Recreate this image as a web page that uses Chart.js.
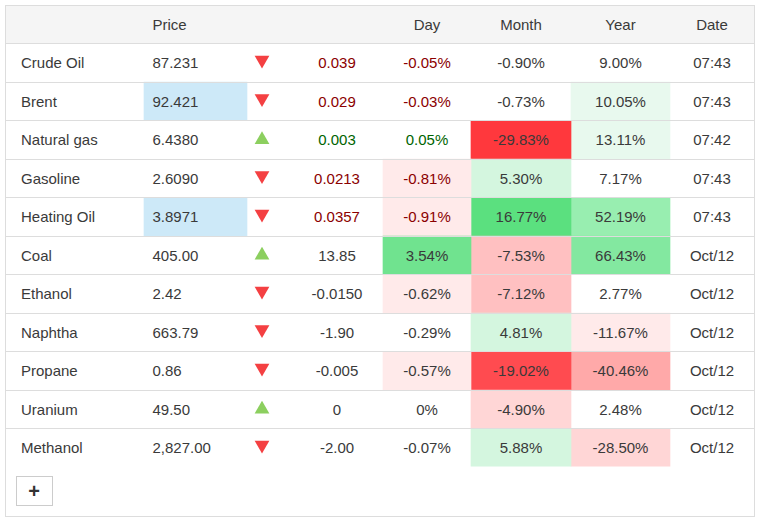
<!DOCTYPE html>
<html>
<head>
<meta charset="utf-8">
<script src="https://cdn.jsdelivr.net/npm/chart.js@4/dist/chart.umd.js"></script>
<style>
	html, body { margin: 0; background: #fff; }
	#wrap { position: relative; width: 765px; height: 523px; overflow: hidden; }
	#box { position: absolute; left: 5px; top: 5px; width: 748px; height: 510px; border: 1px solid #ddd; pointer-events: none; }
	#more { position: absolute; left: 16px; top: 476px; width: 37px; height: 30px; padding: 0 1px 0 0; background: #fff; border: 1px solid #ccc; color: #333; font: bold 20px "Liberation Sans", Arial, sans-serif; line-height: 26px; }
</style>
</head>
<body>
<div id="wrap">
	<canvas id="chart" width="765" height="523"></canvas>
	<div id="box"></div>
	<button id="more">+</button>
</div>
<script>
	// table contents
	var headers = ['', 'Price', '', '', 'Day', 'Month', 'Year', 'Date'];
	var names = ['Crude Oil', 'Brent', 'Natural gas', 'Gasoline', 'Heating Oil', 'Coal', 'Ethanol', 'Naphtha', 'Propane', 'Uranium', 'Methanol'];
	var prices = ['87.231', '92.421', '6.4380', '2.6090', '3.8971', '405.00', '2.42', '663.79', '0.86', '49.50', '2,827.00'];
	var directions = ['down', 'down', 'up', 'down', 'down', 'up', 'down', 'down', 'down', 'up', 'down'];
	var changes = ['0.039', '0.029', '0.003', '0.0213', '0.0357', '13.85', '-0.0150', '-1.90', '-0.005', '0', '-2.00'];
	var days = ['-0.05%', '-0.03%', '0.05%', '-0.81%', '-0.91%', '3.54%', '-0.62%', '-0.29%', '-0.57%', '0%', '-0.07%'];
	var months = ['-0.90%', '-0.73%', '-29.83%', '5.30%', '16.77%', '-7.53%', '-7.12%', '4.81%', '-19.02%', '-4.90%', '5.88%'];
	var years = ['9.00%', '10.05%', '13.11%', '7.17%', '52.19%', '66.43%', '2.77%', '-11.67%', '-40.46%', '2.48%', '-28.50%'];
	var dates = ['07:43', '07:43', '07:42', '07:43', '07:43', 'Oct/12', 'Oct/12', 'Oct/12', 'Oct/12', 'Oct/12', 'Oct/12'];

	// cell shading, per column
	var priceShade = ['', '#cde9f8', '', '', '#cde9f8', '', '', '', '', '', ''];
	var dayShade = ['', '', '', '#ffeaea', '#ffeaea', '#70e38f', '#ffeaea', '', '#ffeaea', '', ''];
	var monthShade = ['', '', '#ff383d', '#d4f6df', '#5be07f', '#ffc0c1', '#ffc0c1', '#d4f6df', '#ff4b50', '#ffd6d6', '#d4f6df'];
	var yearShade = ['', '#e8f9ee', '#e8f9ee', '', '#98eeb0', '#83e8a0', '', '#ffeaea', '#ffa9a9', '', '#ffd6d6'];

	// layout: column edges on the x scale
	var edges = [6, 144, 247, 287, 383, 471, 571, 670, 754];
	var textColor = '#3a3a3a';
	var redText = '#8b0000';
	var greenText = '#006400';
	var liveRows = 5;

	var rows = names.map(function(n, i) { return i; });

	function shadeDataset(shades, col) {
		var cells = [];
		var colors = [];
		rows.forEach(function(r) {
			if (shades[r]) {
				cells.push({ x: [edges[col], edges[col + 1]], y: r });
				colors.push(shades[r]);
			}
		});
		return { type: 'bar', data: cells, backgroundColor: colors, grouped: false, barPercentage: 1, categoryPercentage: 1, borderWidth: 0 };
	}

	function arrowDataset(dir, color, rotation, shift) {
		var pts = [];
		rows.forEach(function(r) {
			if (directions[r] === dir) {
				pts.push({ x: (edges[2] + edges[3]) / 2 - 5, y: r + shift });
			}
		});
		return { type: 'scatter', data: pts, pointStyle: 'triangle', rotation: rotation, pointRadius: 8.5, backgroundColor: color, borderWidth: 0 };
	}

	var headerDataset = {
		type: 'bar',
		data: [{ x: [edges[0], edges[8]], y: -1 }],
		backgroundColor: '#f5f5f5',
		grouped: false, barPercentage: 1, categoryPercentage: 1, borderWidth: 0
	};

	function textColorFor(r, col) {
		if (r >= liveRows) return textColor;
		if (col === 3 || col === 4) return directions[r] === 'up' ? greenText : redText;
		return textColor;
	}

	// text of the cells, placed through the scales
	var cellText = {
		id: 'cellText',
		afterDatasetsDraw: function(chart) {
			var c = chart.ctx, x = chart.scales.x, y = chart.scales.y;
			var columns = [names, prices, null, changes, days, months, years, dates];
			c.save();
			c.font = '15px "Liberation Sans", Arial, sans-serif';
			c.textBaseline = 'middle';
			columns.forEach(function(values, col) {
				var px;
				if (col === 0) { px = x.getPixelForValue(21); c.textAlign = 'left'; }
				else if (col === 1) { px = x.getPixelForValue(152.5); c.textAlign = 'left'; }
				else { px = x.getPixelForValue((edges[col] + edges[col + 1]) / 2 - (col === 3 ? -2 : 0)); c.textAlign = 'center'; }
				if (headers[col]) {
					c.fillStyle = textColor;
					c.fillText(headers[col], px, Math.floor(y.getPixelForValue(-1)) + 2);
				}
				if (!values) return;
				rows.forEach(function(r) {
					c.fillStyle = textColorFor(r, col);
					c.fillText(values[r], px, Math.floor(y.getPixelForValue(r)) + 2);
				});
			});
			c.restore();
		}
	};

	var paper = {
		id: 'paper',
		beforeDraw: function(chart) {
			chart.ctx.save();
			chart.ctx.fillStyle = '#fff';
			chart.ctx.fillRect(0, 0, chart.width, chart.height);
			chart.ctx.restore();
		}
	};

	var canvas = document.getElementById('chart');
	var ctx = canvas.getContext('2d', { alpha: false });

	var config = {
		type: 'bar',
		data: {
			datasets: [
				headerDataset,
				shadeDataset(priceShade, 1),
				shadeDataset(dayShade, 4),
				shadeDataset(monthShade, 5),
				shadeDataset(yearShade, 6),
				arrowDataset('down', '#f44042', 180, -0.07),
				arrowDataset('up', '#8ccf5f', 0, 0)
			]
		},
		options: {
			indexAxis: 'y',
			responsive: false,
			animation: false,
			devicePixelRatio: 1,
			layout: { autoPadding: false, padding: { left: 6, right: 11, top: 6, bottom: 56.5 } },
			scales: {
				x: {
					type: 'linear', min: edges[0], max: edges[8], display: false, offset: false,
					grid: { display: false, offset: false }
				},
				y: {
					type: 'linear', reverse: true, min: -1.474, max: 10.486, offset: false,
					grid: { color: '#ddd', lineWidth: 1, z: 1, drawTicks: false, offset: false },
					border: { display: false },
					ticks: { display: false, padding: 0 },
					afterBuildTicks: function(scale) {
						scale.ticks = rows.map(function(r) { return { value: r - 0.5 }; });
					},
					afterFit: function(scale) {
						scale.width = 0;
					}
				}
			},
			plugins: {
				legend: { display: false },
				tooltip: { enabled: false }
			}
		},
		plugins: [paper, cellText]
	};

	var chart = new Chart(ctx, config);
</script>
</body>
</html>
